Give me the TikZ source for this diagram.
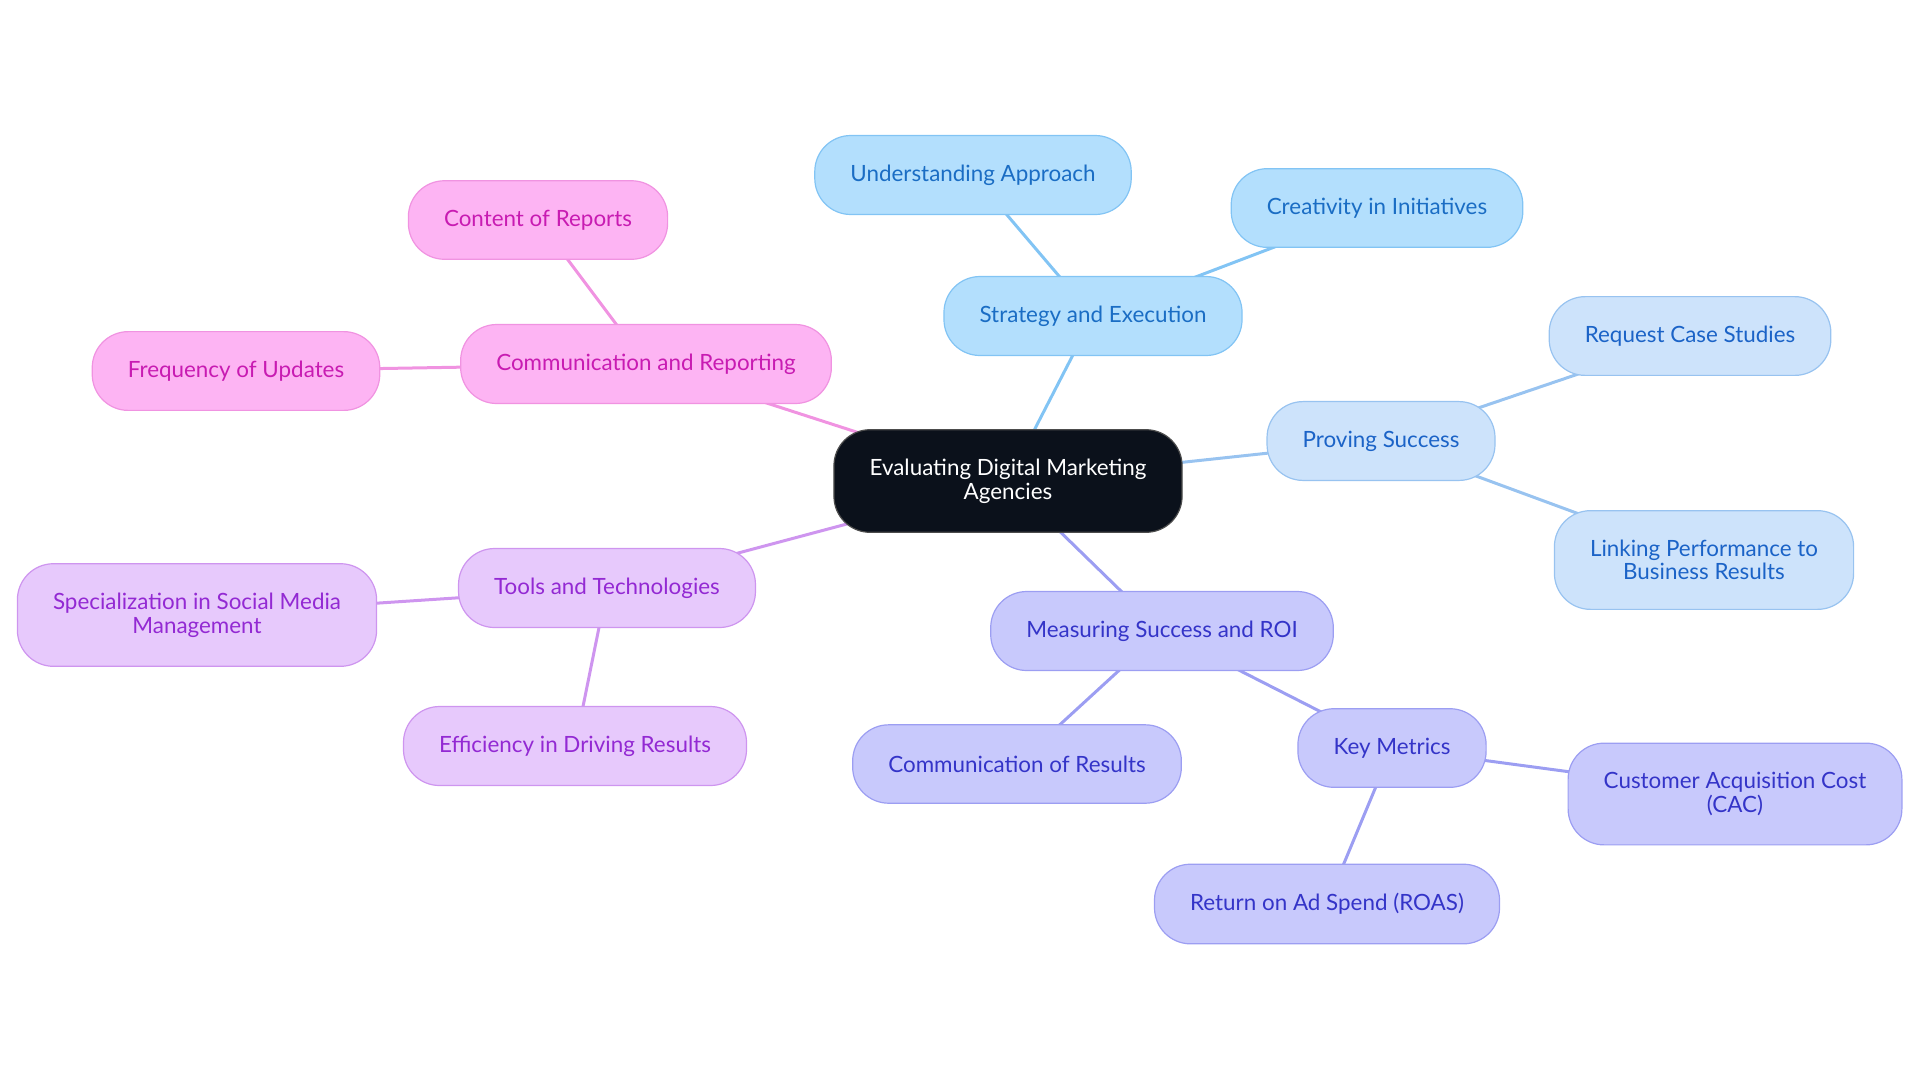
\documentclass[tikz,border=0pt]{standalone}
\usepackage{fontspec}
\setmainfont{Lato}
\usetikzlibrary{backgrounds}
\definecolor{rootfill}{HTML}{0B111B}
\definecolor{stratfill}{HTML}{B3DFFD}
\definecolor{stratline}{HTML}{82C4F4}
\definecolor{strattext}{HTML}{1A6DC4}
\definecolor{provefill}{HTML}{CDE3FB}
\definecolor{proveline}{HTML}{98C3F0}
\definecolor{provetext}{HTML}{1B63C7}
\definecolor{measfill}{HTML}{C8C9FC}
\definecolor{measline}{HTML}{9C9EF2}
\definecolor{meastext}{HTML}{3434C8}
\definecolor{toolfill}{HTML}{E7C9FC}
\definecolor{toolline}{HTML}{CE95EF}
\definecolor{tooltext}{HTML}{9329D3}
\definecolor{repfill}{HTML}{FDB4F3}
\definecolor{repline}{HTML}{F093E1}
\definecolor{reptext}{HTML}{C81BB2}
\begin{document}
\begin{tikzpicture}[x=0.5pt,y=-0.5pt]
		\tikzstyle{all} = [draw, line width=0.6pt, align=center, font=\fontsize{11.2}{11.8}\selectfont]
		\tikzstyle{idea} = [rectangle, all, rounded corners=18pt, inner xsep=17.8pt, inner ysep=14.6pt, minimum height=39.2pt]
		\tikzstyle{link} = [line width=1.5pt]
		\tikzstyle{strat} = [idea, fill=stratfill, draw=stratline, text=strattext]
		\tikzstyle{prove} = [idea, fill=provefill, draw=proveline, text=provetext]
		\tikzstyle{meas} = [idea, fill=measfill, draw=measline, text=meastext]
		\tikzstyle{tool} = [idea, fill=toolfill, draw=toolline, text=tooltext]
		\tikzstyle{report} = [idea, fill=repfill, draw=repline, text=reptext]
		\useasboundingbox (0,0) rectangle (1920,1083);
		\node[idea, fill=rootfill, draw=black!70, text=white] (root) at (1008,481) {Evaluating Digital Marketing\\Agencies};
		\node[strat] (execution) at (1093,316) {Strategy and Execution};
		\node[strat] (approach) at (973,175) {Understanding Approach};
		\node[strat] (creativity) at (1377,208) {Creativity in Initiatives};
		\node[prove] (proving) at (1381,441) {Proving Success};
		\node[prove] (cases) at (1690,336) {Request Case Studies};
		\node[prove] (linking) at (1704,560) {Linking Performance to\\Business Results};
		\node[meas] (measuring) at (1162,631) {Measuring Success and ROI};
		\node[meas] (results) at (1017,764) {Communication of Results};
		\node[meas] (metrics) at (1392,748) {Key Metrics};
		\node[meas] (cac) at (1735,794) {Customer Acquisition Cost\\(CAC)};
		\node[meas] (roas) at (1327,904) {Return on Ad Spend (ROAS)};
		\node[tool] (tools) at (607,588) {Tools and Technologies};
		\node[tool] (social) at (197,615) {Specialization in Social Media\\Management};
		\node[tool] (efficiency) at (575,746) {Efficiency in Driving Results};
		\node[report] (reporting) at (646,364) {Communication and Reporting};
		\node[report] (content) at (538,220) {Content of Reports};
		\node[report] (updates) at (236,371) {Frequency of Updates};
		\begin{scope}[on background layer]
			\draw[link, stratline] (root.center) -- (execution.center) -- (approach.center);
			\draw[link, stratline] (execution.center) -- (creativity.center);
			\draw[link, proveline] (root.center) -- (proving.center) -- (cases.center);
			\draw[link, proveline] (proving.center) -- (linking.center);
			\draw[link, measline] (root.center) -- (measuring.center) -- (results.center);
			\draw[link, measline] (measuring.center) -- (metrics.center) -- (cac.center);
			\draw[link, measline] (metrics.center) -- (roas.center);
			\draw[link, toolline] (root.center) -- (tools.center) -- (social.center);
			\draw[link, toolline] (tools.center) -- (efficiency.center);
			\draw[link, repline] (root.center) -- (reporting.center) -- (content.center);
			\draw[link, repline] (reporting.center) -- (updates.center);
		\end{scope}
		\end{tikzpicture}
\end{document}
